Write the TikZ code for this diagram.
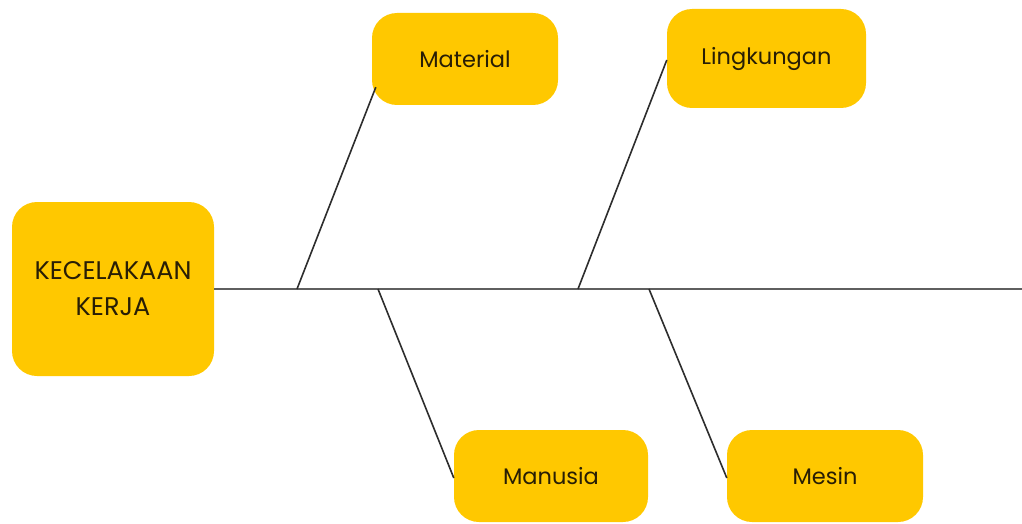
\documentclass[tikz,border=0pt]{standalone}
\usepackage{fontspec}
\setmainfont{Poppins}
\usetikzlibrary{calc}
\definecolor{boxyellow}{RGB}{255,200,0}
\definecolor{boxtext}{RGB}{40,30,5}
\definecolor{spinegray}{RGB}{95,95,95}
\definecolor{bonegray}{RGB}{45,45,45}
\tikzset{
  causebox/.style={draw=none, fill=boxyellow, rounded corners=25pt, text=boxtext,
    font=\fontsize{22.5}{36}\selectfont, inner sep=0pt, align=center},
  headbox/.style={causebox, font=\fontsize{25.5}{36}\selectfont},
  spineline/.style={draw=spinegray, line width=2.5pt},
  boneline/.style={draw=bonegray, line width=1.6pt},
}
\begin{document}
\begin{tikzpicture}[x=1pt, y=-1pt]
\useasboundingbox (0,0) rectangle (1022,524);
\node[headbox, minimum width=202pt, minimum height=174pt] (head) at (113,289) {KECELAKAAN\\KERJA};
\node[causebox, minimum width=186pt, minimum height=92pt] (mat) at (465,59) {Material};
\node[causebox, minimum width=199pt, minimum height=99pt] (ling) at (766.5,58.5) {Lingkungan};
\node[causebox, minimum width=194pt, minimum height=92pt] (man) at (551,476) {Manusia};
\node[causebox, minimum width=196pt, minimum height=92pt] (mes) at (825,476) {Mesin};
\coordinate (tail) at (1022,289);
\coordinate (jmat) at (297,289);
\coordinate (jling) at (578,289);
\coordinate (jman) at (378,289);
\coordinate (jmes) at (649,289);
\draw[spineline] (head.east) -- (tail);
\draw[boneline] (jmat) -- ($(mat.south west)+(4,-18)$);
\draw[boneline] (jling) -- ($(ling.west)+(0,1.5)$);
\draw[boneline] (jman) -- ($(man.west)+(0,2)$);
\draw[boneline] (jmes) -- ($(mes.west)+(0,2)$);
\end{tikzpicture}
\end{document}
